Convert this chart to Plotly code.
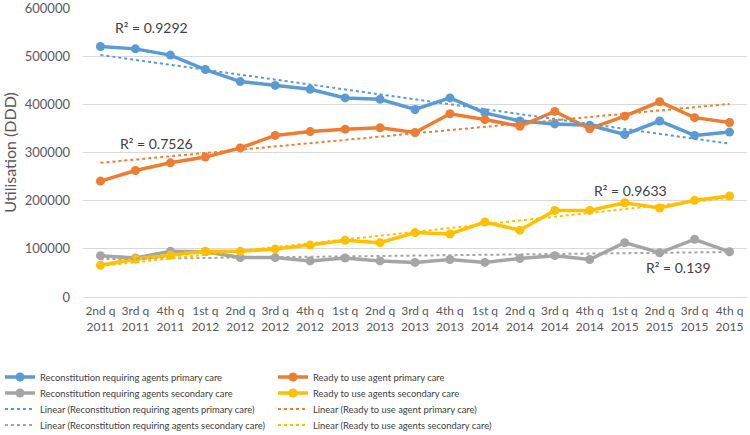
import numpy as np
import plotly.graph_objects as go

quarters = ["2nd q<br>2011", "3rd q<br>2011", "4th q<br>2011", "1st q<br>2012", "2nd q<br>2012",
            "3rd q<br>2012", "4th q<br>2012", "1st q<br>2013", "2nd q<br>2013", "3rd q<br>2013",
            "4th q<br>2013", "1st q<br>2014", "2nd q<br>2014", "3rd q<br>2014", "4th q<br>2014",
            "1st q<br>2015", "2nd q<br>2015", "3rd q<br>2015", "4th q<br>2015"]

recon_primary = [521000, 516000, 503000, 473000, 448000, 440000, 432000, 414000, 411000, 390000,
                 414000, 383000, 366000, 360000, 357000, 338000, 366000, 336000, 343000]
ready_primary = [241000, 263000, 279000, 291000, 310000, 336000, 344000, 349000, 352000, 342000,
                 381000, 369000, 355000, 386000, 350000, 376000, 406000, 373000, 363000]
recon_secondary = [86000, 81000, 95000, 94000, 82000, 82000, 75000, 81000, 75000, 72000,
                   78000, 72000, 80000, 86000, 78000, 113000, 92000, 120000, 94000]
ready_secondary = [66000, 79000, 87000, 95000, 95000, 100000, 108000, 118000, 113000, 134000,
                   131000, 156000, 139000, 180000, 180000, 196000, 185000, 201000, 210000]

names = ["Reconstitution requiring agents primary care", "Ready to use agent primary care",
         "Reconstitution requiring agents secondary care", "Ready to use agents secondary care"]
series = [recon_primary, ready_primary, recon_secondary, ready_secondary]
colors = ["#5B9BD5", "#ED7D31", "#A5A5A5", "#FFC000"]
r2_labels = ["R² = 0.9292", "R² = 0.7526", "R² = 0.139", "R² = 0.9633"]

FONT = "Lato"
TXT = "#595959"
W, H = 750, 435
L, R, T, B = 83, 3, 8, 138
PW, PH = W - L - R, H - T - B

main_legends = ["legend", "legend", "legend2", "legend2"]
trend_legends = ["legend3", "legend3", "legend4", "legend4"]

fig = go.Figure()
idx = np.arange(len(quarters))
for name, vals, col, lg in zip(names, series, colors, main_legends):
    fig.add_trace(go.Scatter(x=quarters, y=vals, name=name, mode="lines+markers", legend=lg,
                             line=dict(color=col, width=3.5), marker=dict(size=9, color=col)))
for name, vals, col, lg in zip(names, series, colors, trend_legends):
    k, b = np.polyfit(idx, np.array(vals, dtype=float), 1)
    fig.add_trace(go.Scatter(x=quarters, y=k * idx + b, name="Linear (" + name + ")", mode="lines",
                             legend=lg, line=dict(color=col, width=2, dash="dot"), hoverinfo="skip"))

# R² annotations: centre positions (pixels) converted to paper coords of the plot area
ann_pos = [(151, 28), (156, 143), (678, 267), (630, 191)]
for lab, (px, py) in zip(r2_labels, ann_pos):
    fig.add_annotation(text=lab, xref="paper", x=(px - L) / PW, xanchor="center",
                       yref="paper", y=(H - B - py) / PH, yanchor="middle",
                       showarrow=False, font=dict(family=FONT, size=14, color="#404040"))

def legend_row(yc):
    return dict(orientation="h", xref="container", yref="container", x=-0.008, y=1 - yc / H,
                xanchor="left", yanchor="middle", entrywidth=228, traceorder="normal",
                bgcolor="rgba(0,0,0,0)", font=dict(family=FONT, size=9.4, color="#404040"),
                itemwidth=30)

fig.update_layout(
    width=W, height=H,
    margin=dict(l=L, r=R, t=T, b=B, autoexpand=False),
    plot_bgcolor="white", paper_bgcolor="white",
    font=dict(family=FONT, color=TXT),
    showlegend=True,
    legend=legend_row(377), legend2=legend_row(393), legend3=legend_row(409), legend4=legend_row(425),
    xaxis=dict(type="category", range=[-0.5, len(quarters) - 0.5], tickfont=dict(size=12, color=TXT),
               showgrid=False, showline=False, ticks="", automargin=False, ticklabelstandoff=5),
    yaxis=dict(range=[0, 601000], dtick=100000, tickformat="d", showgrid=True, gridcolor="#D9D9D9",
               gridwidth=1.3, zeroline=True, zerolinecolor="#D9D9D9", zerolinewidth=1.3,
               tickfont=dict(size=13, color=TXT), ticklabelstandoff=12, automargin=False,
               title=dict(text="Utilisation (DDD)", font=dict(size=16, color=TXT), standoff=4)),
)

fig.write_html("out.html", config={"displayModeBar": False},
               post_script="document.body.style.margin='0';")
